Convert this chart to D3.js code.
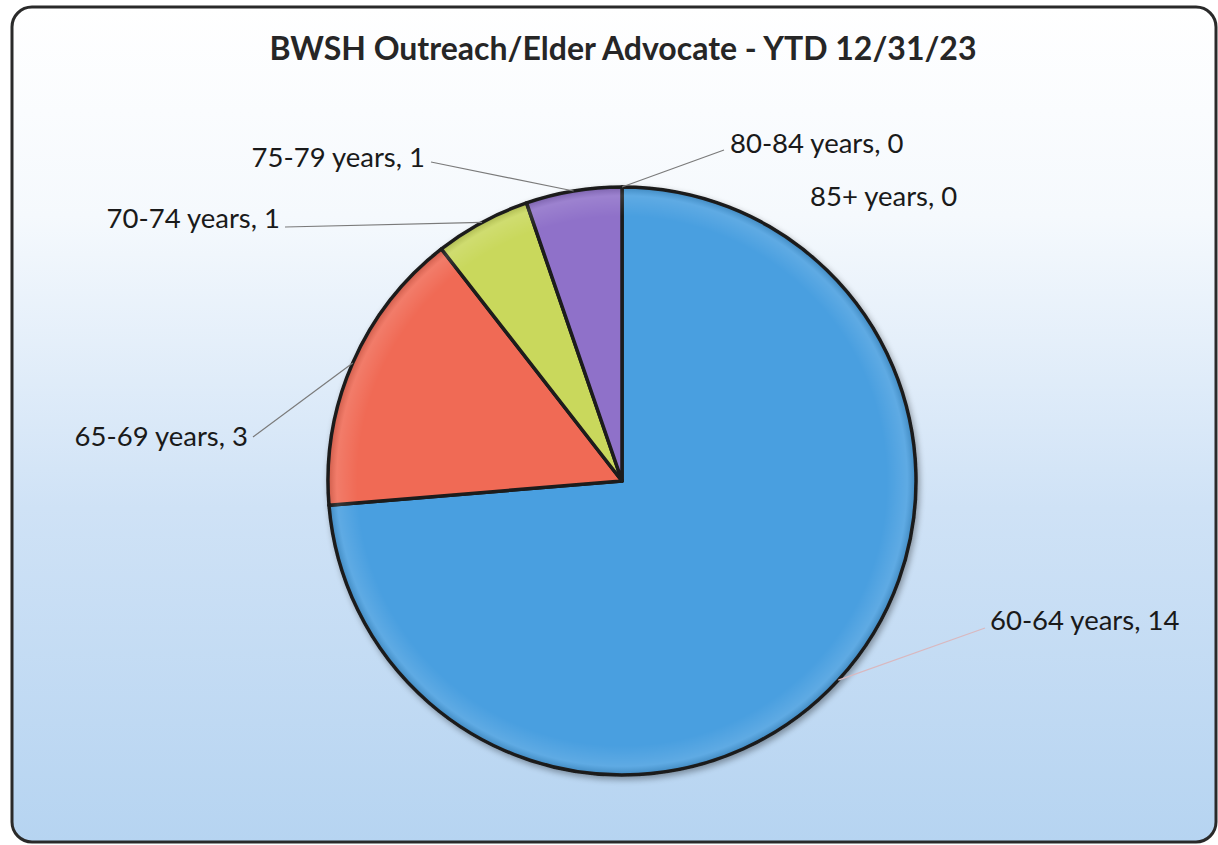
<!DOCTYPE html>
<html>
<head>
<meta charset="utf-8">
<script src="https://cdn.jsdelivr.net/npm/d3@7"></script>
<style>
  html, body { margin: 0; padding: 0; background: #ffffff; }
  svg { display: block; }
</style>
</head>
<body>
<svg id="chart" width="1218" height="845"></svg>
<script>
// ---- data ----
const categories = ["60-64 years", "65-69 years", "70-74 years", "75-79 years", "80-84 years", "85+ years"];
const values = [14, 3, 1, 1, 0, 0];
const colors = ["#4a9fe0", "#f06a55", "#c9d85c", "#8f71c9", "#4bacc6", "#f79646"];
const title = "BWSH Outreach/Elder Advocate - YTD 12/31/23";

// ---- layout ----
const W = 1218, H = 845;
const cx = 622, cy = 481, R = 294;
// label anchor positions (text x, baseline y) and leader elbow point
const labelLayout = [
  { x: 990,  y: 630, anchor: "start", elbow: [985, 628] },
  { x: 248,  y: 446, anchor: "end",   elbow: [253, 437] },
  { x: 280,  y: 228, anchor: "end",   elbow: [285, 227] },
  { x: 425,  y: 167, anchor: "end",   elbow: [431, 162] },
  { x: 730,  y: 153, anchor: "start", elbow: [724, 150] },
  { x: 810,  y: 206, anchor: "start", elbow: null }
];

const svg = d3.select("#chart");
const defs = svg.append("defs");

const bg = defs.append("linearGradient").attr("id", "bg").attr("x1", 0).attr("y1", 0).attr("x2", 0).attr("y2", 1);
bg.append("stop").attr("offset", "0%").attr("stop-color", "#ffffff");
bg.append("stop").attr("offset", "25%").attr("stop-color", "#f5f9fd");
bg.append("stop").attr("offset", "60%").attr("stop-color", "#cfe2f6");
bg.append("stop").attr("offset", "100%").attr("stop-color", "#b6d4f1");

const shadow = defs.append("filter").attr("id", "shadow").attr("x", "-10%").attr("y", "-10%").attr("width", "130%").attr("height", "130%");
shadow.append("feGaussianBlur").attr("in", "SourceAlpha").attr("stdDeviation", 3);
shadow.append("feOffset").attr("dx", 2).attr("dy", 3).attr("result", "off");
shadow.append("feComponentTransfer").append("feFuncA").attr("type", "linear").attr("slope", 0.35);
const merge = shadow.append("feMerge");
merge.append("feMergeNode");
merge.append("feMergeNode").attr("in", "SourceGraphic");

const bevel = defs.append("radialGradient").attr("id", "bevel").attr("cx", "50%").attr("cy", "50%").attr("r", "50%");
bevel.append("stop").attr("offset", "90%").attr("stop-color", "#ffffff").attr("stop-opacity", 0);
bevel.append("stop").attr("offset", "97%").attr("stop-color", "#ffffff").attr("stop-opacity", 0.12);
bevel.append("stop").attr("offset", "100%").attr("stop-color", "#000000").attr("stop-opacity", 0.15);

// frame
svg.append("rect")
  .attr("x", 12).attr("y", 7).attr("width", 1204).attr("height", 835)
  .attr("rx", 20).attr("ry", 20)
  .attr("fill", "url(#bg)")
  .attr("stroke", "#2a2a2a").attr("stroke-width", 3);

// title
svg.append("text")
  .attr("x", 623).attr("y", 60)
  .attr("text-anchor", "middle")
  .attr("font-family", "Lato, 'Open Sans', sans-serif")
  .attr("font-weight", "bold")
  .attr("font-size", 32)
  .attr("fill", "#262626")
  .text(title);

const data = categories.map((c, i) => ({ cat: c, value: values[i], color: colors[i], lay: labelLayout[i] }));

const pie = d3.pie().value(d => d.value).sort(null).startAngle(0).endAngle(2 * Math.PI);
const arcs = pie(data);
const arc = d3.arc().innerRadius(0).outerRadius(R);

const g = svg.append("g").attr("transform", `translate(${cx},${cy})`);

g.append("g").attr("filter", "url(#shadow)")
  .selectAll("path")
  .data(arcs.filter(a => a.data.value > 0))
  .join("path")
  .attr("d", arc)
  .attr("fill", d => d.data.color)
  .attr("stroke", "#1b1b1b")
  .attr("stroke-width", 3.5)
  .attr("stroke-linejoin", "round");

g.append("circle").attr("r", R).attr("fill", "url(#bevel)").attr("pointer-events", "none");

// leader lines
arcs.forEach(a => {
  const lay = a.data.lay;
  if (!lay.elbow) return;
  const mid = (a.startAngle + a.endAngle) / 2;
  const px = cx + R * Math.sin(mid), py = cy - R * Math.cos(mid);
  svg.append("line")
    .attr("x1", px).attr("y1", py)
    .attr("x2", lay.elbow[0]).attr("y2", lay.elbow[1])
    .attr("stroke", a.data.value === 14 ? "#d9b8bf" : "#7a7a7a")
    .attr("stroke-width", 1.2);
});

// labels
svg.append("g").selectAll("text")
  .data(arcs)
  .join("text")
  .attr("x", d => d.data.lay.x)
  .attr("y", d => d.data.lay.y)
  .attr("text-anchor", d => d.data.lay.anchor)
  .attr("font-family", "Lato, 'Open Sans', sans-serif")
  .attr("font-size", 27.5)
  .attr("fill", "#1a1a1a")
  .text(d => `${d.data.cat}, ${d.data.value}`);
</script>
</body>
</html>
